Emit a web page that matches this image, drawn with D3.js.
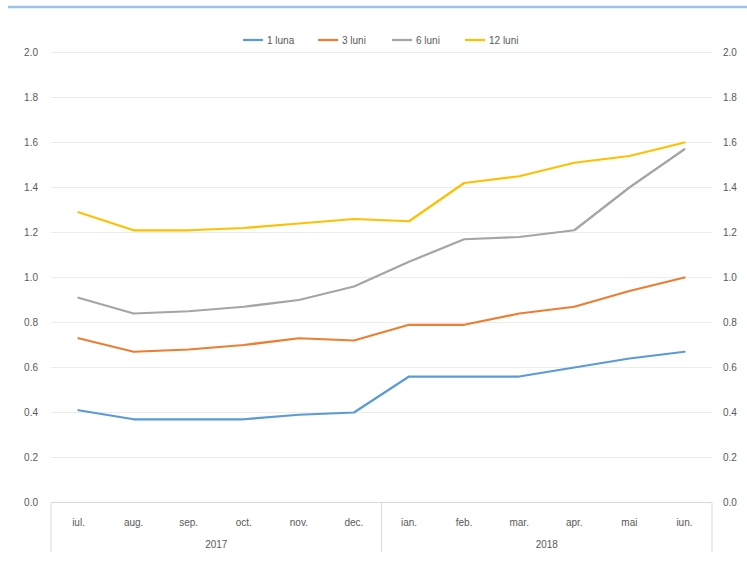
<!DOCTYPE html>
<html>
<head>
<meta charset="utf-8">
<script src="https://cdn.jsdelivr.net/npm/d3@7"></script>
<style>
body { margin: 0; background: #fff; }
svg { display: block; font-family: "Liberation Sans", Arial, sans-serif; }
</style>
</head>
<body>
<svg width="747" height="562"></svg>
<script>
const months = ["iul.", "aug.", "sep.", "oct.", "nov.", "dec.", "ian.", "feb.", "mar.", "apr.", "mai", "iun."];
const years = [{ name: "2017", from: 0, to: 6 }, { name: "2018", from: 6, to: 12 }];
const seriesNames = ["1 luna", "3 luni", "6 luni", "12 luni"];
const seriesColors = ["#5B9BD5", "#ED7D31", "#A5A5A5", "#FFC000"];
const luna1 = [0.41, 0.37, 0.37, 0.37, 0.39, 0.40, 0.56, 0.56, 0.56, 0.60, 0.64, 0.67];
const luni3 = [0.73, 0.67, 0.68, 0.70, 0.73, 0.72, 0.79, 0.79, 0.84, 0.87, 0.94, 1.00];
const luni6 = [0.91, 0.84, 0.85, 0.87, 0.90, 0.96, 1.07, 1.17, 1.18, 1.21, 1.40, 1.57];
const luni12 = [1.29, 1.21, 1.21, 1.22, 1.24, 1.26, 1.25, 1.42, 1.45, 1.51, 1.54, 1.60];
const yTicks = [0, 0.2, 0.4, 0.6, 0.8, 1.0, 1.2, 1.4, 1.6, 1.8, 2.0];

const allSeries = [luna1, luni3, luni6, luni12];

let plotLeft = 51, plotRight = 712, plotTop = 52.5, plotBottom = 502.5;
const svg = d3.select("svg");

// top border line (cut-off header)
svg.append("line")
    .attr("x1", 8).attr("x2", 747)
    .attr("y1", 7).attr("y2", 7)
    .attr("stroke", "#9DC3E6")
    .attr("stroke-width", 2.5);

const x = d3.scaleBand()
    .domain(months)
    .range([plotLeft, plotRight]);

const y = d3.scaleLinear()
    .domain([0, 2])
    .range([plotBottom, plotTop]);

// gridlines
svg.append("g")
    .selectAll("line")
    .data(yTicks.filter(d => d > 0))
    .enter().append("line")
    .attr("x1", plotLeft).attr("x2", plotRight)
    .attr("y1", d => y(d)).attr("y2", d => y(d))
    .attr("stroke", "#ececec")
    .attr("stroke-width", 1);

// left and right axis labels
const fmt = d3.format(".1f");
const yLeft = d3.axisLeft(y).tickValues(yTicks).tickFormat(fmt).tickSize(0).tickPadding(13);
const yRight = d3.axisRight(y).tickValues(yTicks).tickFormat(fmt).tickSize(0).tickPadding(11);

svg.append("g").attr("transform", `translate(${plotLeft},0)`).call(yLeft)
    .call(g => g.select(".domain").remove());
svg.append("g").attr("transform", `translate(${plotRight},0)`).call(yRight)
    .call(g => g.select(".domain").remove());
svg.selectAll(".tick text")
    .attr("fill", "#595959")
    .attr("font-size", "10px")
    .attr("font-family", "Liberation Sans, Arial, sans-serif");

// category axis (two levels)
const xg = svg.append("g");
xg.append("line")
    .attr("x1", plotLeft).attr("x2", plotRight)
    .attr("y1", plotBottom).attr("y2", plotBottom)
    .attr("stroke", "#d9d9d9");

const sepX = [plotLeft].concat(years.map(d => d.to === months.length ? plotRight : x(months[d.to])));
xg.selectAll(".sep")
    .data(sepX)
    .enter().append("line")
    .attr("x1", d => d).attr("x2", d => d)
    .attr("y1", plotBottom).attr("y2", 552)
    .attr("stroke", "#d9d9d9");

xg.selectAll(".month")
    .data(months)
    .enter().append("text")
    .attr("x", d => x(d) + x.bandwidth() / 2)
    .attr("y", plotBottom + 23)
    .attr("text-anchor", "middle")
    .attr("font-size", "10px")
    .attr("fill", "#595959")
    .text(d => d);

xg.selectAll(".year")
    .data(years)
    .enter().append("text")
    .attr("x", d => (x(months[d.from]) + x(months[d.to - 1]) + x.bandwidth()) / 2)
    .attr("y", plotBottom + 45)
    .attr("text-anchor", "middle")
    .attr("font-size", "10px")
    .attr("fill", "#595959")
    .text(d => d.name);

// lines
const line = d3.line()
    .x((d, i) => x(months[i]) + x.bandwidth() / 2)
    .y(d => y(d));

svg.append("g")
    .selectAll("path")
    .data(allSeries)
    .enter().append("path")
    .attr("d", line)
    .attr("fill", "none")
    .attr("stroke", (d, i) => seriesColors[i])
    .attr("stroke-width", 2.25)
    .attr("stroke-linejoin", "round")
    .attr("stroke-linecap", "round");

// legend
const legendX = [243, 318, 392, 465];
const legend = svg.append("g")
    .selectAll("g")
    .data(seriesNames)
    .enter().append("g")
    .attr("transform", (d, i) => `translate(${legendX[i]}, 40)`);
legend.append("line")
    .attr("x1", 0).attr("x2", 20)
    .attr("stroke", (d, i) => seriesColors[i])
    .attr("stroke-width", 2.25);
legend.append("text")
    .attr("x", 24)
    .attr("y", 3.5)
    .attr("font-size", "10px")
    .attr("fill", "#595959")
    .text(d => d);
</script>
</body>
</html>
